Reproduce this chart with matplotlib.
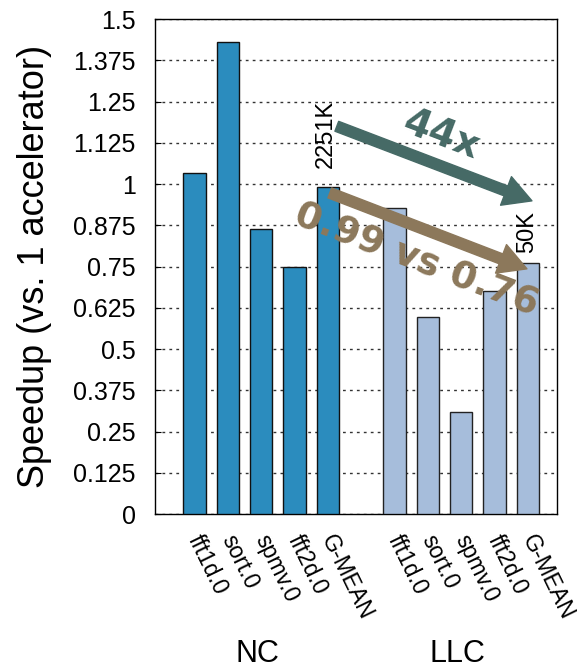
import numpy as np
import matplotlib
matplotlib.use("Agg")
import matplotlib.pyplot as plt
import matplotlib.transforms as mtransforms

plt.rcParams['font.family'] = ['Liberation Sans', 'DejaVu Sans']

benchmarks = ["fft1d.0", "sort.0", "spmv.0", "fft2d.0", "G-MEAN"]
groups = ["NC", "LLC"]
nc_speedup = [1.033, 1.43, 0.865, 0.75, 0.99]
llc_speedup = [0.927, 0.596, 0.308, 0.675, 0.76]
yticks = [0, 0.125, 0.25, 0.375, 0.5, 0.625, 0.75, 0.875, 1, 1.125, 1.25, 1.375, 1.5]
ytick_labels = ["0", "0.125", "0.25", "0.375", "0.5", "0.625", "0.75", "0.875",
                "1", "1.125", "1.25", "1.375", "1.5"]
cycles_nc = "2251K"
cycles_llc = "50K"

nc_color = "#2b8cbe"
llc_color = "#a6bddb"
teal = "#466a66"
brown = "#8c785b"

fig = plt.figure(figsize=(5.77, 6.70), dpi=100)
ax = fig.add_axes([0.2686, 0.2328, 0.6967, 0.7388])

n = len(benchmarks)
x_nc = np.arange(n)
x_llc = np.arange(n) + n + 1
width = 0.67

ax.bar(x_nc, nc_speedup, width, color=nc_color, edgecolor="#111111", linewidth=1.0, zorder=3)
ax.bar(x_llc, llc_speedup, width, color=llc_color, edgecolor="#222222", linewidth=1.0, zorder=3)

ax.set_ylim(0, 1.5)
ax.set_xlim(-1.18, 10.87)
ax.set_yticks(yticks)
ax.set_yticklabels(ytick_labels, fontsize=18)
ax.yaxis.grid(True, linestyle=(0, (2, 3)), color="#333333", linewidth=1.0, zorder=0)
ax.set_axisbelow(True)
ax.tick_params(axis="y", direction="in", length=4, pad=14)
ax.tick_params(axis="x", length=0, pad=12)
for s in ax.spines.values():
    s.set_linewidth(1.0)
    s.set_color("black")

xt = np.concatenate([x_nc, x_llc])
ax.set_xticks(xt)
ax.set_xticklabels(benchmarks * 2, rotation=-64, ha="left", va="top", fontsize=16.5)
shift = mtransforms.ScaledTranslation(-11 / 100, 0, fig.dpi_scale_trans)
for lab in ax.get_xticklabels():
    lab.set_transform(lab.get_transform() + shift)

ax.set_ylabel("Speedup (vs. 1 accelerator)", fontsize=26, labelpad=15)

blend = mtransforms.blended_transform_factory(ax.transData, ax.transAxes)
ax.text(x_nc[2] - 0.1, -0.282, groups[0], transform=blend, ha="center", va="center", fontsize=22)
ax.text(x_llc[2] - 0.1, -0.282, groups[1], transform=blend, ha="center", va="center", fontsize=22)

# Cycle count labels above the geometric-mean bars
ax.text(x_nc[-1] - 0.05, nc_speedup[-1] + 0.058, cycles_nc, rotation=90,
        ha="center", va="bottom", fontsize=17, zorder=5)
ax.text(x_llc[-1] - 0.04, llc_speedup[-1] + 0.03, cycles_llc, rotation=90,
        ha="center", va="bottom", fontsize=17, zorder=5)

arrow_style = "simple,head_width=1.1,head_length=1.0,tail_width=0.38"
ax.annotate("", xy=(10.12, 0.949), xytext=(4.27, 1.175),
            arrowprops=dict(arrowstyle=arrow_style, color=teal, mutation_scale=20,
                            shrinkA=0, shrinkB=0), zorder=6)
ax.annotate("", xy=(9.97, llc_speedup[-1] - 0.017), xytext=(4.06, nc_speedup[-1] - 0.017),
            arrowprops=dict(arrowstyle=arrow_style, color=brown, mutation_scale=20,
                            shrinkA=0, shrinkB=0), zorder=6)

ax.text(7.39, 1.15, "44x", rotation=-21, color=teal, fontsize=28, fontweight="bold",
        family="DejaVu Sans", ha="center", va="center", zorder=7)
ax.text(6.64, 0.767, "0.99 vs 0.76", rotation=-21, color=brown, fontsize=27,
        fontweight="bold", family="DejaVu Sans", ha="center", va="center", zorder=7)

fig.savefig("out.png", dpi=100)
